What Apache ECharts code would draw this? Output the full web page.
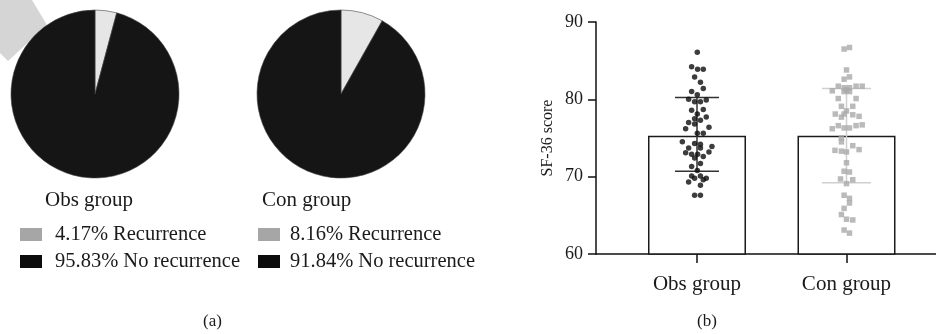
<!DOCTYPE html>
<html>
<head>
<meta charset="utf-8">
<script src="https://cdn.jsdelivr.net/npm/echarts@6/dist/echarts.min.js"></script>
<style>
  html, body { margin: 0; padding: 0; background: #fff; }
  #chart { width: 936px; height: 334px; }
</style>
</head>
<body>
<div id="chart"></div>
<script>
// Recurrence counts per group: [recurrence, no recurrence]
const groups = ['Obs group', 'Con group'];
const obsRecurrence = [2, 46];
const conRecurrence = [4, 45];
const recurrenceLabels = ['Recurrence', 'No recurrence'];

// SF-36 scores: mean bar height and error bar limits per group
const barMeans = [75.3, 75.3];
const errLow = [70.7, 69.2];
const errHigh = [80.25, 81.4];

// Individual SF-36 scores: [horizontal jitter, score]
const obsScores = [
  [0.002, 86.1], [-0.036, 84.2], [0.004, 83.9], [0.042, 83.9], [-0.016, 82.9],
  [0.023, 82.2], [0.042, 81.4], [-0.036, 81.0], [0.002, 80.6], [-0.056, 80.0],
  [-0.016, 79.7], [0.023, 79.7], [0.062, 79.9], [-0.036, 78.6], [0.042, 78.7],
  [0.002, 78.1], [-0.016, 77.5], [0.023, 77.3], [0.062, 77.7], [-0.056, 77.0],
  [-0.016, 76.8], [-0.076, 76.2], [0.080, 76.4], [0.002, 75.6], [0.042, 75.6],
  [-0.098, 74.5], [-0.016, 74.3], [0.023, 74.2], [0.100, 73.9], [-0.056, 73.7],
  [0.023, 73.7], [-0.076, 73.1], [0.080, 73.2], [-0.036, 72.9], [0.004, 72.9],
  [0.042, 72.6], [-0.016, 72.4], [0.023, 71.7], [-0.036, 71.3], [0.002, 70.8],
  [-0.036, 70.1], [0.023, 70.1], [-0.016, 69.8], [0.062, 69.8], [-0.056, 69.3],
  [0.042, 69.6], [0.023, 68.9], [-0.016, 67.6], [0.023, 67.6]
];
const conScores = [
  [-0.016, 86.5], [0.020, 86.7], [0.000, 83.8], [0.020, 82.9], [-0.016, 82.6],
  [-0.055, 81.7], [0.064, 81.7], [0.105, 81.7], [-0.095, 81.1], [-0.016, 81.5],
  [0.020, 81.5], [-0.016, 81.0], [0.020, 81.0], [0.000, 81.2], [-0.055, 80.1],
  [0.064, 80.1], [-0.034, 79.1], [0.042, 79.1], [0.000, 78.5], [-0.016, 78.1],
  [-0.075, 78.1], [0.042, 78.0], [0.084, 77.8], [-0.034, 77.7], [-0.095, 76.2],
  [-0.055, 76.6], [-0.016, 76.3], [0.020, 76.3], [0.064, 76.6], [0.105, 76.7],
  [-0.034, 75.0], [-0.034, 74.5], [0.042, 74.0], [-0.077, 73.4], [-0.034, 73.3],
  [0.000, 73.2], [0.084, 73.5], [0.000, 71.8], [-0.016, 70.7], [0.020, 70.6],
  [-0.040, 69.7], [0.042, 69.6], [0.000, 69.1], [-0.016, 67.6], [0.020, 67.2],
  [0.020, 66.6], [-0.016, 65.9], [-0.034, 65.1], [0.000, 64.5], [0.042, 64.4],
  [-0.016, 63.1], [0.020, 62.7]
];
const yTicks = [60, 70, 80, 90];

const FONT = '"Liberation Serif", "DejaVu Serif", serif';
const TEXT = '#1a1a1a';

function pctNames(counts) {
  const total = counts[0] + counts[1];
  return counts.map((c, i) => (c / total * 100).toFixed(2) + '% ' + recurrenceLabels[i]);
}
const obsNames = pctNames(obsRecurrence);
const conNames = pctNames(conRecurrence);

const sliceColors = ['#e6e6e6', '#151515'];
const legendColors = ['#a6a6a6', '#0c0c0c'];

function pieSeries(counts, names, cx) {
  return {
    type: 'pie',
    center: [cx, 94],
    radius: 84,
    startAngle: 90,
    clockwise: true,
    silent: true,
    label: { show: false },
    labelLine: { show: false },
    itemStyle: { borderColor: '#444', borderWidth: 0.6 },
    data: counts.map((v, i) => ({ name: names[i], value: v, itemStyle: { color: sliceColors[i] } }))
  };
}

function legendFor(names, left, textPad) {
  return {
    orient: 'vertical',
    left: left,
    top: 224,
    padding: 0,
    icon: 'rect',
    itemWidth: 22,
    itemHeight: 13,
    itemGap: 6,
    selectedMode: false,
    itemStyle: { borderWidth: 0 },
    textStyle: { fontFamily: FONT, fontSize: 20.5, color: TEXT, padding: [0, 0, 0, textPad] },
    data: names.map((n, i) => ({ name: n, itemStyle: { color: legendColors[i], borderWidth: 0 } }))
  };
}

const capWidths = [44, 49];
const errColors = ['#333333', '#cfcfcf'];
const titleText = { fontFamily: FONT, fontSize: 21, fontWeight: 'normal', color: TEXT };

const chart = echarts.init(document.getElementById('chart'), null, { renderer: 'canvas' });
chart.setOption({
  animation: false,
  backgroundColor: '#ffffff',
  title: [
    { text: groups[0], left: 45, top: 190, padding: 0, textStyle: titleText },
    { text: groups[1], left: 262, top: 190, padding: 0, textStyle: titleText }
  ],
  legend: [legendFor(obsNames, 20, 8), legendFor(conNames, 258, 5)],
  graphic: [
    {
      type: 'polygon', z: -10, silent: true,
      shape: { points: [[0, 0], [32, 0], [47, 25], [8, 61], [0, 53]] },
      style: { fill: '#d5d5d5' }
    },
    { type: 'text', left: 203, top: 313, style: { text: '(a)', font: '17px ' + FONT, fill: TEXT } },
    { type: 'text', left: 697, top: 313, style: { text: '(b)', font: '17px ' + FONT, fill: TEXT } }
  ],
  grid: { left: 596, right: 0, top: 22, bottom: 80, containLabel: false },
  xAxis: {
    type: 'value',
    min: 0.3244,
    max: 2.5987,
    splitLine: { show: false },
    axisLine: { show: true, lineStyle: { color: '#111', width: 1.5 } },
    axisTick: { show: true, customValues: [1, 2], length: 9, lineStyle: { color: '#111', width: 1.5 } },
    axisLabel: {
      customValues: [1, 2],
      margin: 20,
      fontFamily: FONT, fontSize: 21, color: TEXT,
      formatter: v => groups[Math.round(v) - 1]
    }
  },
  yAxis: {
    type: 'value',
    min: 60,
    max: 90,
    interval: 10,
    name: 'SF-36 score',
    nameLocation: 'middle',
    nameGap: 40,
    nameTextStyle: { fontFamily: FONT, fontSize: 16, color: TEXT },
    splitLine: { show: false },
    axisLine: { show: true, lineStyle: { color: '#111', width: 1.5 } },
    axisTick: { show: true, length: 8, lineStyle: { color: '#111', width: 1.5 } },
    axisLabel: { margin: 13, fontFamily: FONT, fontSize: 18, color: TEXT,
      formatter: v => (yTicks.indexOf(v) >= 0 ? String(v) : '') }
  },
  series: [
    pieSeries(obsRecurrence, obsNames, 95),
    pieSeries(conRecurrence, conNames, 341),
    {
      type: 'bar',
      barWidth: 98,
      clip: true,
      silent: true,
      itemStyle: { color: '#ffffff', borderColor: '#1a1a1a', borderWidth: 1.5 },
      data: barMeans.map((m, i) => [i + 1, m]),
      z: 2
    },
    {
      type: 'custom',
      silent: true,
      z: 3,
      encode: { x: 0, y: [1, 2] },
      data: barMeans.map((m, i) => [i + 1, errLow[i], errHigh[i]]),
      renderItem: function (params, api) {
        const i = params.dataIndex;
        const x = api.value(0);
        const lo = api.coord([x, api.value(1)]);
        const hi = api.coord([x, api.value(2)]);
        const h = capWidths[i] / 2;
        const style = { stroke: errColors[i], lineWidth: 1.5 };
        return {
          type: 'group',
          children: [
            { type: 'line', shape: { x1: lo[0], y1: lo[1], x2: hi[0], y2: hi[1] }, style: style },
            { type: 'line', shape: { x1: lo[0] - h, y1: lo[1], x2: lo[0] + h, y2: lo[1] }, style: style },
            { type: 'line', shape: { x1: hi[0] - h, y1: hi[1], x2: hi[0] + h, y2: hi[1] }, style: style }
          ]
        };
      }
    },
    {
      type: 'scatter',
      silent: true,
      z: 4,
      symbol: 'circle',
      symbolSize: 5.5,
      itemStyle: { color: '#0d0d0d' },
      data: obsScores.map(p => [1 + p[0], p[1]])
    },
    {
      type: 'scatter',
      silent: true,
      z: 4,
      symbol: 'rect',
      symbolSize: 5.5,
      itemStyle: { color: '#a9a9a9' },
      data: conScores.map(p => [2 + p[0], p[1]])
    }
  ]
});
</script>
</body>
</html>
